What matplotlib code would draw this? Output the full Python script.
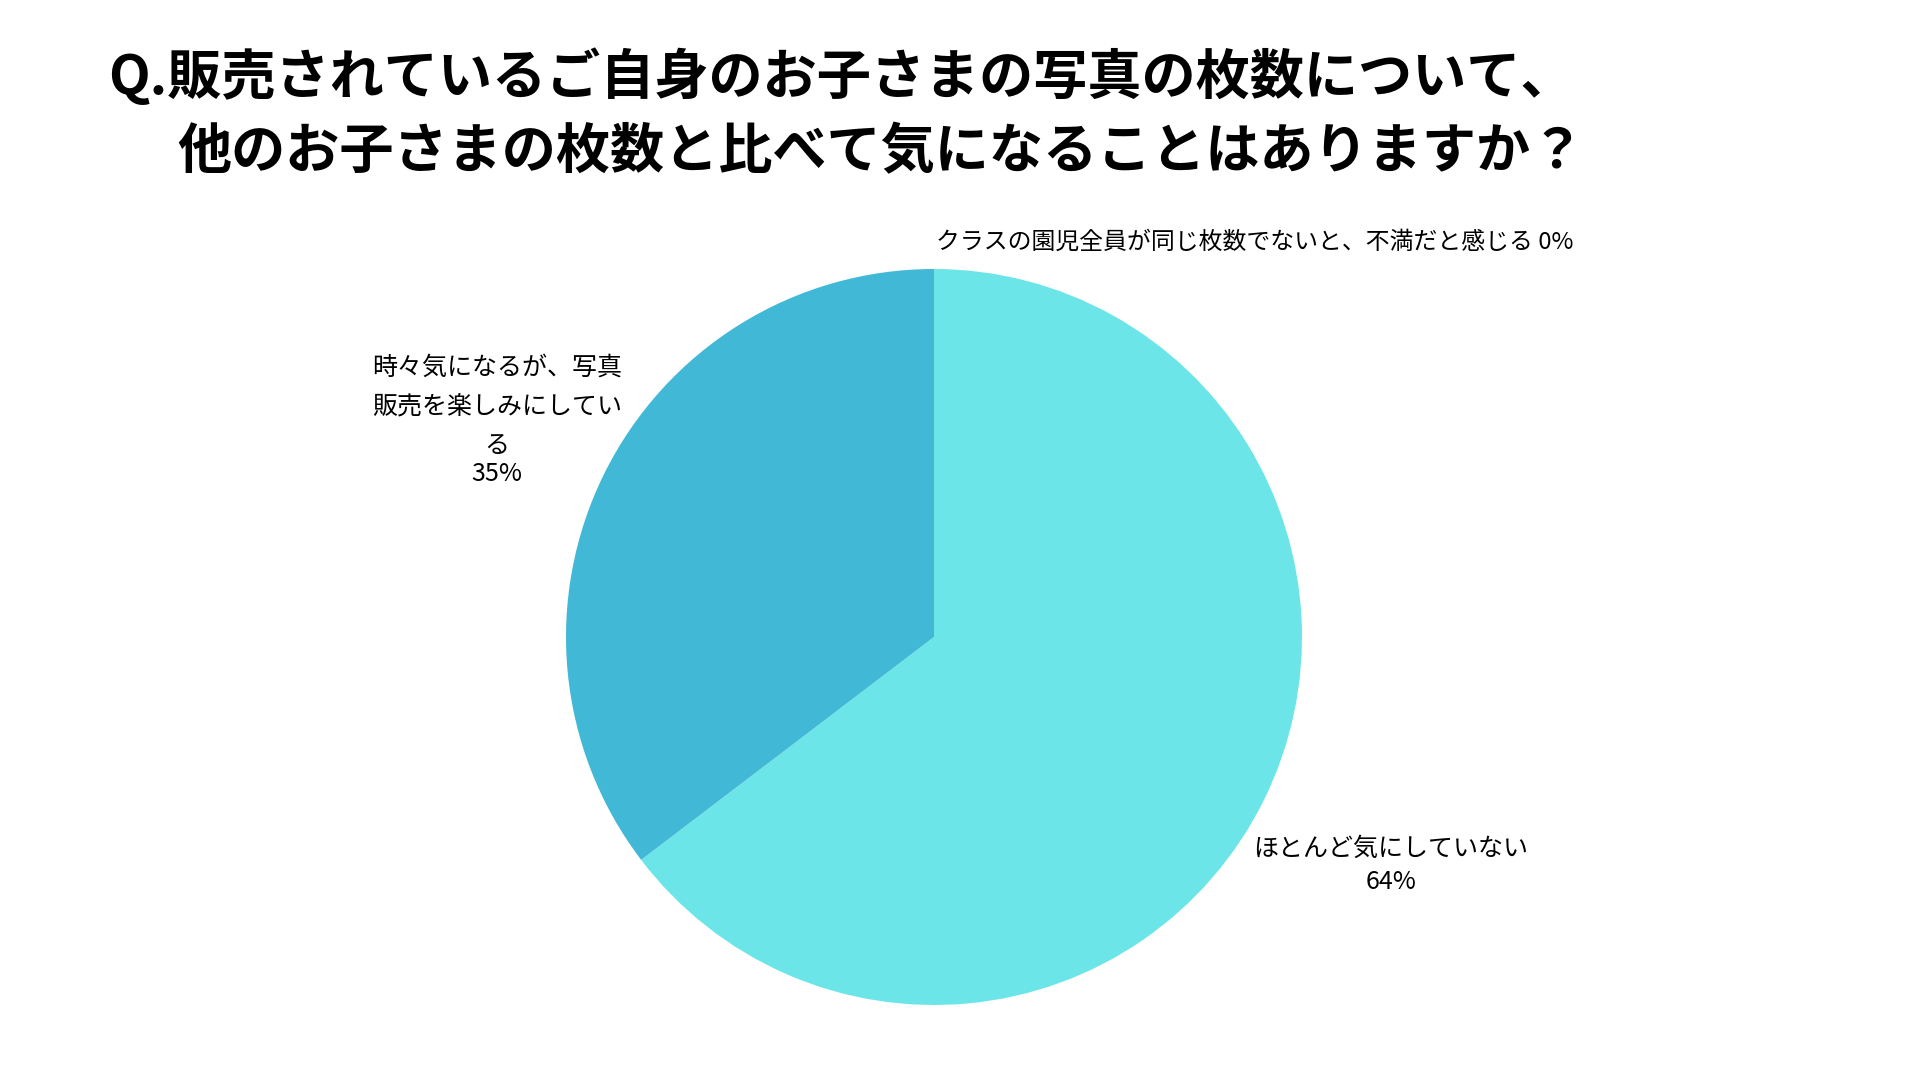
import matplotlib.pyplot as plt
import numpy as np

plt.rcParams['font.family'] = ['Noto Sans CJK JP', 'DejaVu Sans']

title = "Q.販売されているご自身のお子さまの写真の枚数について、\n　他のお子さまの枚数と比べて気になることはありますか？"
labels = ["ほとんど気にしていない",
          "時々気になるが、写真\n販売を楽しみにしてい\nる",
          "クラスの園児全員が同じ枚数でないと、不満だと感じる"]
values = [64, 35, 0]
colors = ["#6CE5E8", "#41B8D5", "#2D8BBA"]

W, H = 1920, 1080
fig = plt.figure(figsize=(19.2, 10.8), dpi=100)

# pie centred at (934, 637) px, radius 368 px
cx, cy, r = 934, 637, 368
ax = fig.add_axes([(cx - r) / W, (H - cy - r) / H, 2 * r / W, 2 * r / H])
ax.pie(values, colors=colors, startangle=90, counterclock=False,
       wedgeprops=dict(linewidth=0))
ax.set_xlim(-1, 1)
ax.set_ylim(-1, 1)
ax.set_aspect("equal")
ax.axis("off")

def px(x, y):
    return x / W, 1 - y / H

fig.text(*px(108, 77), title.split("\n")[0], fontsize=39, fontweight="bold",
         ha="left", va="center")
fig.text(*px(177, 153), title.split("\n")[1].strip("　"), fontsize=39,
         fontweight="bold", ha="left", va="center")

pct = [f"{v}%" for v in values]

fig.text(*px(1391, 849), labels[0], fontsize=18, ha="center", va="center")
fig.text(*px(1391, 882), pct[0], fontsize=18, ha="center", va="center")

fig.text(*px(497, 407), labels[1], fontsize=18, ha="center", va="center",
         linespacing=1.65)
fig.text(*px(497, 474), pct[1], fontsize=18, ha="center", va="center")

fig.text(*px(1255, 242), labels[2] + " " + pct[2], fontsize=17.2,
         ha="center", va="center")

fig.savefig("out.png", dpi=100, facecolor="white")
